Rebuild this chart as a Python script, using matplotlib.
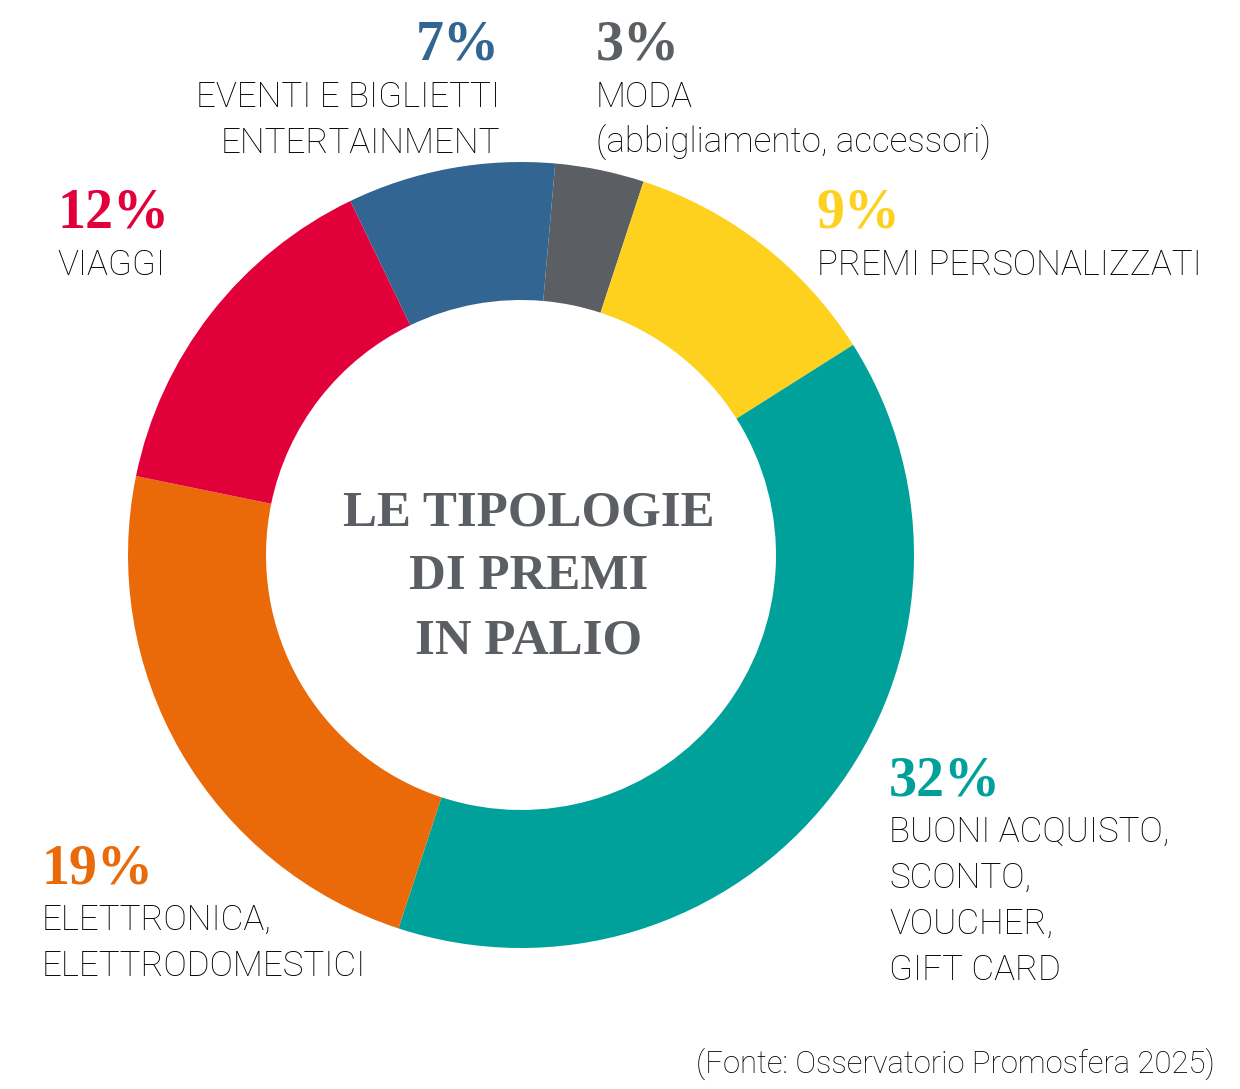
import matplotlib

matplotlib.use("Agg")
import matplotlib.pyplot as plt

W, H = 1240, 1089

# wedge order: clockwise from the top, starting with MODA
categories = ["MODA", "PREMI PERSONALIZZATI", "BUONI ACQUISTO", "ELETTRONICA", "VIAGGI", "EVENTI"]
values = [3, 9, 32, 19, 12, 7]
colors = ["#5b5f63", "#fdd11d", "#00a19a", "#ea6a0a", "#e2003b", "#326591"]
label_lines = [
    ["MODA", "(abbigliamento, accessori)"],
    ["PREMI PERSONALIZZATI"],
    ["BUONI ACQUISTO,", "SCONTO,", "VOUCHER,", "GIFT CARD"],
    ["ELETTRONICA,", "ELETTRODOMESTICI"],
    ["VIAGGI"],
    ["EVENTI E BIGLIETTI", "ENTERTAINMENT"],
]
center_title = ["LE TIPOLOGIE", "DI PREMI", "IN PALIO"]
source = "(Fonte: Osservatorio Promosfera 2025)"

# label anchor (x, baseline of the percent, alignment) in image pixels
label_pos = [
    (596, 60, "left"),
    (817, 228, "left"),
    (889, 795, "left"),
    (42, 883, "left"),
    (57, 228, "left"),
    (500, 60, "right"),
]

SANS = ["Roboto", "DejaVu Sans"]
SERIF = ["Liberation Serif", "DejaVu Serif"]
PT = 72 / 100  # px -> pt at dpi 100

fig = plt.figure(figsize=(W / 100, H / 100), dpi=100)
ax = fig.add_axes([0, 0, 1, 1])

cx, cy, r_out, r_in = 521, H - 555, 393, 255
ax.pie(
    values,
    colors=colors,
    startangle=85,
    counterclock=False,
    center=(cx, cy),
    radius=r_out,
    wedgeprops=dict(width=r_out - r_in, linewidth=0),
    frame=True,
)
ax.set_xlim(0, W)
ax.set_ylim(0, H)
ax.set_aspect("equal")
ax.axis("off")

for val, col, lines, (x, yb, ha) in zip(values, colors, label_lines, label_pos):
    ax.text(x, H - yb, f"{val}%", color=col, fontsize=56 * PT, fontweight="bold",
            family=SERIF, ha=ha, va="baseline")
    for i, line in enumerate(lines):
        ax.text(x, H - (yb + 47 + 46 * i), line, color="#000000", fontsize=35 * PT,
                fontweight="light", family=SANS, ha=ha, va="baseline")

for i, line in enumerate(center_title):
    ax.text(529, H - (525 + 64 * i), line, color="#5b5f63", fontsize=51 * PT,
            fontweight="bold", family=SERIF, ha="center", va="baseline")

ax.text(1215, H - 1073, source, color="#000000", fontsize=31 * PT,
        fontweight="light", family=SANS, ha="right", va="baseline")

fig.savefig("out.png", dpi=100)
